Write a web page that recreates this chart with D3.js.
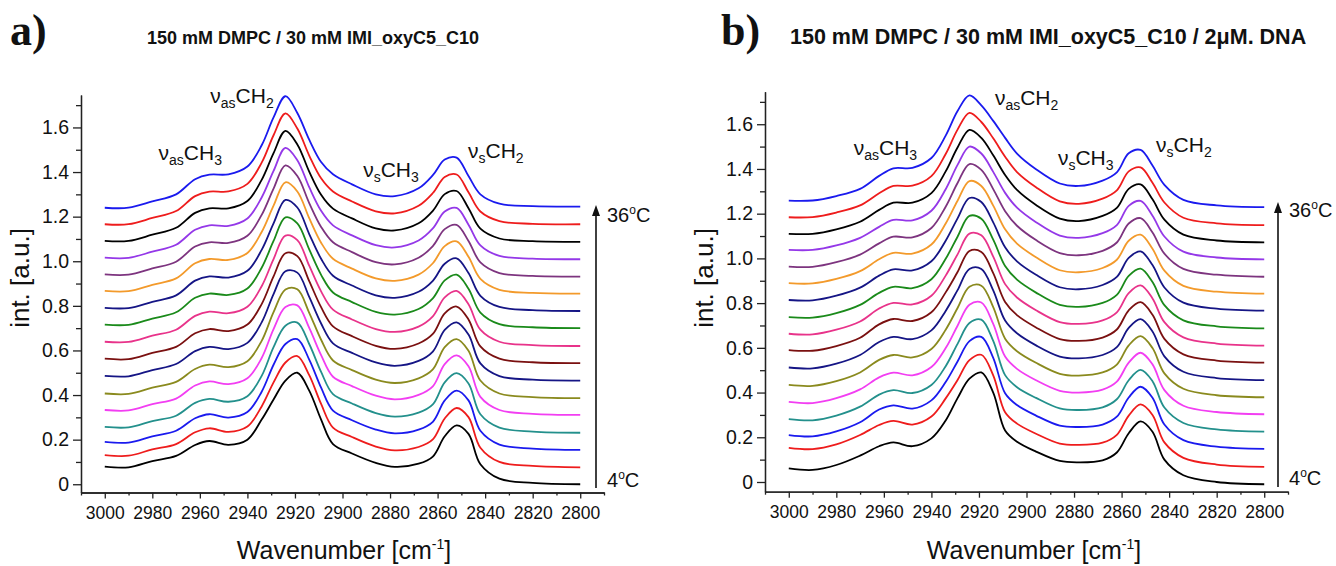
<!DOCTYPE html>
<html>
<head>
<meta charset="utf-8">
<script src="https://cdn.jsdelivr.net/npm/d3@7/dist/d3.min.js"></script>
<style>
  body { margin: 0; background: #fff; }
  svg text { font-family: "Liberation Sans", Arial, sans-serif; fill: #111; }
</style>
</head>
<body>
<svg id="chart" width="1336" height="566"></svg>
<script>
// sampling points of every spectrum (cm-1)
const wavenumbers = [3000, 2990, 2980, 2970, 2962, 2956, 2948, 2940, 2934, 2929, 2924, 2919, 2914, 2909, 2904, 2896, 2886, 2878, 2868, 2862, 2857, 2852, 2847, 2842, 2834, 2820, 2800];
const temperatures = [4, 6, 8, 10, 12, 14, 16, 18, 20, 22, 24, 26, 28, 30, 32, 34, 36];
const lineColors = ["#000000", "#ee1c1c", "#1a1aee", "#23908c", "#f23ef2", "#8a8a1e", "#151585", "#7a1010", "#e8338a",
                    "#1a8a1a", "#151585", "#f39a2b", "#7d347f", "#9438e8", "#000000", "#ee1c1c", "#1a1aee"];

// a) DMPC / IMI_oxyC5_C10 : stacking offset + absorbance of each temperature
const offsetsA = [0, .076, .154, .231, .311, .386, .465, .543, .620, .700, .777, .855, .931, 1.009, 1.087, 1.166, 1.245];
const spectraA = [
  [.079,.076,.104,.127,.176,.194,.177,.200,.290,.380,.465,.500,.420,.290,.180,.138,.096,.078,.092,.124,.215,.264,.226,.090,.025,.006,0],
  [.055,.052,.080,.104,.157,.175,.159,.183,.273,.381,.470,.499,.413,.284,.178,.136,.093,.076,.091,.125,.219,.266,.225,.088,.024,.006,0],
  [.036,.033,.061,.086,.142,.160,.145,.170,.261,.382,.475,.497,.405,.279,.176,.133,.091,.074,.091,.126,.222,.266,.222,.086,.024,.006,0],
  [.026,.024,.052,.076,.134,.152,.139,.164,.255,.384,.480,.494,.398,.273,.173,.131,.088,.072,.090,.127,.226,.267,.221,.083,.023,.005,0],
  [.022,.020,.048,.073,.132,.150,.138,.164,.255,.385,.484,.491,.390,.268,.171,.129,.086,.070,.090,.128,.228,.267,.218,.081,.022,.005,0],
  [.021,.019,.047,.073,.131,.150,.139,.166,.257,.386,.487,.488,.383,.262,.169,.126,.083,.068,.089,.129,.229,.265,.213,.079,.021,.005,0],
  [.021,.019,.047,.074,.132,.151,.141,.169,.261,.388,.490,.484,.375,.256,.167,.124,.081,.066,.088,.130,.227,.261,.206,.077,.020,.004,0],
  [.020,.018,.046,.073,.134,.153,.144,.173,.265,.389,.493,.480,.368,.251,.165,.121,.078,.064,.088,.131,.223,.254,.196,.075,.020,.004,0],
  [.019,.018,.046,.073,.135,.154,.147,.176,.268,.390,.495,.475,.360,.245,.163,.119,.076,.063,.087,.133,.218,.247,.187,.073,.019,.004,0],
  [.016,.015,.043,.071,.136,.155,.149,.178,.271,.391,.497,.470,.353,.239,.160,.117,.073,.061,.086,.134,.214,.240,.177,.070,.018,.004,0],
  [.014,.013,.041,.070,.136,.155,.150,.180,.274,.393,.498,.464,.345,.234,.158,.114,.070,.059,.086,.135,.212,.236,.170,.068,.018,.004,0],
  [.012,.011,.039,.068,.136,.155,.151,.182,.276,.394,.499,.458,.338,.228,.156,.112,.068,.057,.085,.136,.213,.234,.165,.066,.017,.003,0],
  [.010,.009,.037,.067,.135,.154,.151,.183,.277,.395,.499,.451,.330,.223,.154,.110,.065,.055,.085,.137,.213,.232,.160,.064,.016,.003,0],
  [.007,.006,.034,.065,.132,.152,.150,.183,.277,.396,.499,.444,.323,.217,.152,.107,.063,.053,.084,.138,.214,.230,.155,.062,.015,.003,0],
  [.004,.004,.032,.063,.130,.150,.150,.183,.278,.398,.498,.437,.315,.211,.149,.105,.060,.051,.083,.139,.214,.228,.151,.059,.015,.003,0],
  [.000,.000,.028,.059,.126,.146,.147,.181,.276,.399,.497,.429,.308,.206,.147,.102,.058,.049,.083,.140,.212,.223,.143,.057,.014,.002,0],
  [-.005,-.005,.023,.055,.123,.143,.145,.180,.275,.400,.495,.420,.300,.200,.145,.100,.055,.047,.082,.141,.211,.220,.137,.055,.013,.002,0]
];

// b) same system with 2 uM DNA
const offsetsB = [-.010, .068, .148, .225, .303, .379, .456, .534, .610, .687, .766, .842, .918, .996, 1.072, 1.149, 1.229];
const spectraB = [
  [.071,.064,.086,.128,.170,.187,.170,.205,.285,.385,.472,.500,.410,.240,.190,.146,.104,.098,.107,.142,.228,.281,.235,.110,.040,.010,0],
  [.085,.079,.100,.142,.187,.205,.189,.225,.306,.388,.477,.501,.409,.244,.193,.148,.104,.098,.108,.143,.229,.279,.232,.109,.040,.010,0],
  [.062,.056,.078,.119,.176,.195,.180,.217,.299,.391,.482,.501,.407,.249,.196,.149,.104,.098,.109,.144,.230,.278,.229,.109,.039,.010,0],
  [.056,.051,.072,.112,.166,.186,.173,.209,.293,.393,.486,.501,.406,.253,.199,.151,.104,.097,.109,.145,.230,.276,.226,.108,.039,.010,0],
  [.055,.050,.072,.111,.165,.186,.174,.211,.296,.396,.490,.500,.404,.258,.203,.152,.105,.097,.110,.146,.231,.275,.223,.108,.038,.010,0],
  [.055,.051,.072,.111,.167,.189,.178,.216,.302,.399,.494,.499,.403,.262,.206,.154,.105,.097,.111,.146,.232,.273,.220,.107,.038,.009,0],
  [.056,.052,.073,.112,.170,.193,.183,.222,.309,.402,.497,.497,.401,.266,.209,.155,.105,.097,.112,.147,.233,.272,.217,.106,.037,.009,0],
  [.056,.053,.074,.111,.171,.195,.186,.225,.314,.405,.499,.495,.400,.271,.212,.157,.105,.097,.112,.148,.234,.270,.214,.106,.037,.009,0],
  [.053,.050,.071,.108,.166,.191,.184,.223,.313,.408,.501,.493,.398,.275,.215,.158,.105,.097,.113,.149,.235,.269,.211,.105,.037,.009,0],
  [.050,.048,.068,.105,.159,.186,.180,.220,.311,.410,.503,.490,.397,.279,.218,.160,.105,.096,.114,.150,.235,.267,.207,.104,.036,.009,0],
  [.048,.046,.067,.103,.157,.185,.180,.221,.313,.413,.504,.486,.395,.284,.221,.161,.105,.096,.115,.151,.236,.265,.204,.104,.036,.009,0],
  [.047,.046,.066,.101,.154,.183,.179,.220,.314,.416,.504,.482,.394,.288,.224,.163,.105,.096,.115,.152,.237,.264,.201,.103,.035,.009,0],
  [.045,.044,.065,.099,.149,.179,.176,.218,.313,.419,.504,.478,.392,.293,.228,.164,.106,.096,.116,.153,.238,.262,.198,.103,.035,.009,0],
  [.042,.042,.062,.096,.145,.176,.174,.217,.313,.422,.504,.473,.391,.297,.231,.166,.106,.096,.117,.153,.239,.261,.195,.102,.034,.008,0],
  [.038,.038,.058,.092,.145,.177,.177,.220,.317,.424,.503,.467,.389,.301,.234,.167,.106,.095,.118,.154,.239,.259,.192,.101,.034,.008,0],
  [.035,.036,.056,.088,.142,.175,.176,.219,.318,.427,.502,.461,.388,.306,.237,.169,.106,.095,.118,.155,.240,.258,.189,.101,.033,.008,0],
  [.029,.030,.050,.082,.140,.174,.176,.220,.320,.430,.500,.455,.386,.310,.240,.170,.106,.095,.119,.156,.241,.256,.186,.100,.033,.008,0]
];

const yTickValues = [0, 0.2, 0.4, 0.6, 0.8, 1.0, 1.2, 1.4, 1.6];
const yTickLabels = ["0", "0.2", "0.4", "0.6", "0.8", "1.0", "1.2", "1.4", "1.6"];
const yMinorTicks = [0.1, 0.3, 0.5, 0.7, 0.9, 1.1, 1.3, 1.5, 1.7];
const xTickValues = [3000, 2980, 2960, 2940, 2920, 2900, 2880, 2860, 2840, 2820, 2800];
const xMinorTicks = [3010, 2990, 2970, 2950, 2930, 2910, 2890, 2870, 2850, 2830, 2810, 2790];
// band assignments: [subscript of nu, number of H]
const bandNames = [["as", "3"], ["as", "2"], ["s", "3"], ["s", "2"]];

const panels = [
  { letter: "a)", letterX: 10, title: "150 mM DMPC / 30 mM IMI_oxyC5_C10", titleX: 147, titleSize: 18,
    x0: 81, x1: 604, yTop: 95, yBot: 492.5, yMin: -0.037, yMax: 1.7455,
    offsets: offsetsA, spectra: spectraA, yLabelX: 29, xLabelX: 344,
    bands: [[2977.4, 1.454], [2955.6, 1.71], [2891.3, 1.379], [2847.2, 1.462]],
    arrowX: 596, arrowTop: 205, arrowBot: 488, hotY: 222, coldY: 487 },
  { letter: "b)", letterX: 721, title: "150 mM DMPC / 30 mM IMI_oxyC5_C10 / 2\u03bcM. DNA", titleX: 790, titleSize: 21.5,
    x0: 765, x1: 1288, yTop: 91.7, yBot: 491.7, yMin: -0.0434, yMax: 1.7455,
    offsets: offsetsB, spectra: spectraB, yLabelX: 713, xLabelX: 1034,
    bands: [[2972.7, 1.462], [2913.3, 1.686], [2886.8, 1.418], [2845.5, 1.477]],
    arrowX: 1278, arrowTop: 202, arrowBot: 487, hotY: 217, coldY: 485 }
];

const svg = d3.select("#chart");

function tempLabel(g, px, py, num) {
  const t = g.append("text").attr("x", px).attr("y", py).style("font-size", "20px");
  t.append("tspan").text(num);
  t.append("tspan").attr("dy", -8).style("font-size", "12px").text("o");
  t.append("tspan").attr("dy", 8).text("C");
}

panels.forEach(p => {
  const x = d3.scaleLinear().domain([3010, 2790]).range([p.x0, p.x1]);
  const y = d3.scaleLinear().domain([p.yMin, p.yMax]).range([p.yBot, p.yTop]);
  const g = svg.append("g");

  // spectra
  const line = d3.line()
    .x(d => x(d[0]))
    .y(d => y(d[1]))
    .curve(d3.curveCatmullRom.alpha(0.5));
  p.spectra.forEach((row, i) => {
    g.append("path")
      .datum(row.map((v, j) => [wavenumbers[j], p.offsets[i] + v]))
      .attr("d", line)
      .attr("fill", "none")
      .attr("stroke", lineColors[i])
      .attr("stroke-width", 1.8);
  });

  // axes
  const xAxis = g.append("g").attr("transform", `translate(0,${p.yBot})`)
    .call(d3.axisBottom(x).tickValues(xTickValues).tickSize(6).tickSizeOuter(0).tickPadding(8).tickFormat(d3.format("d")));
  g.append("g").attr("transform", `translate(0,${p.yBot})`)
    .call(d3.axisBottom(x).tickValues(xMinorTicks).tickSize(3).tickSizeOuter(0).tickFormat(""));
  xAxis.selectAll("text").style("font-family", "'Liberation Sans Narrow', 'Arial Narrow', 'Liberation Sans', sans-serif")
    .style("font-size", "17.5px");

  const yAxis = g.append("g").attr("transform", `translate(${p.x0},0)`)
    .call(d3.axisLeft(y).tickValues(yTickValues).tickSize(8).tickSizeOuter(0).tickPadding(4)
      .tickFormat((d, i) => yTickLabels[i]));
  g.append("g").attr("transform", `translate(${p.x0},0)`)
    .call(d3.axisLeft(y).tickValues(yMinorTicks).tickSize(5).tickSizeOuter(0).tickFormat(""));
  yAxis.selectAll("text").style("font-size", "19.5px");
  g.selectAll(".domain, .tick line").attr("stroke", "#222").attr("stroke-width", 1.3);

  // axis titles
  g.append("text")
    .attr("transform", `translate(${p.yLabelX},278) rotate(-90)`)
    .attr("text-anchor", "middle").style("font-size", "26px").text("int. [a.u.]");
  const xt = g.append("text").attr("x", p.xLabelX).attr("y", 559)
    .attr("text-anchor", "middle").style("font-size", "25px");
  xt.append("tspan").text("Wavenumber [cm");
  xt.append("tspan").attr("dy", -10).style("font-size", "14px").text("-1");
  xt.append("tspan").attr("dy", 10).text("]");

  // panel letter and title
  g.append("text").attr("x", p.letterX).attr("y", 45)
    .style("font-family", "'Liberation Serif', 'Times New Roman', serif")
    .style("font-weight", "bold").style("font-size", "44px").text(p.letter);
  g.append("text").attr("x", p.titleX).attr("y", 44)
    .style("font-weight", "bold").style("font-size", p.titleSize + "px").text(p.title);

  // band labels
  p.bands.forEach((b, i) => {
    const t = g.append("text").attr("x", x(b[0])).attr("y", y(b[1])).style("font-size", "21px");
    t.append("tspan").text("\u03bd");
    t.append("tspan").attr("dy", 5).style("font-size", "14px").text(bandNames[i][0]);
    t.append("tspan").attr("dy", -5).text("CH");
    t.append("tspan").attr("dy", 5).style("font-size", "14px").text(bandNames[i][1]);
  });

  // temperature arrow
  g.append("line")
    .attr("x1", p.arrowX).attr("x2", p.arrowX)
    .attr("y1", p.arrowBot).attr("y2", p.arrowTop + 8)
    .attr("stroke", "#111").attr("stroke-width", 1.6);
  g.append("path")
    .attr("d", `M${p.arrowX},${p.arrowTop} L${p.arrowX - 4},${p.arrowTop + 11} L${p.arrowX + 4},${p.arrowTop + 11} Z`)
    .attr("fill", "#111");
  tempLabel(g, p.arrowX + 11, p.hotY, temperatures[temperatures.length - 1]);
  tempLabel(g, p.arrowX + 11, p.coldY, temperatures[0]);
});
</script>
</body>
</html>
